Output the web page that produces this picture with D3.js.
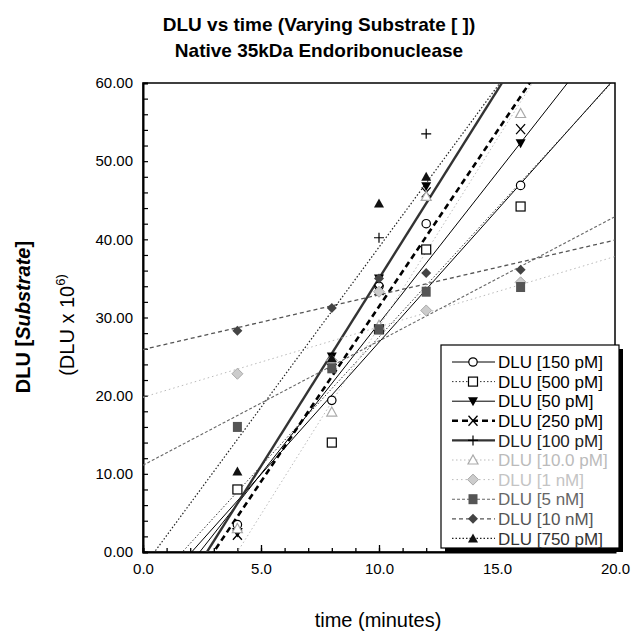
<!DOCTYPE html>
<html><head><meta charset="utf-8">
<script src="https://cdn.jsdelivr.net/npm/d3@7/dist/d3.min.js"></script>
<style>body{margin:0;background:#fff}svg{display:block}text{font-family:"Liberation Sans",Arial,sans-serif}</style>
</head><body><svg id="c" width="631" height="633"></svg>
<script>
// ---- data ----
const timeMin = [4, 8, 10, 12, 16];
const seriesNames = ["DLU [150 pM]","DLU [500 pM]","DLU [50 pM]","DLU [250 pM]","DLU [100 pM]","DLU [10.0 pM]","DLU [1 nM]","DLU [5 nM]","DLU [10 nM]","DLU [750 pM]"];
const dlu150pM = [3.5, 19.4, 34.0, 42.0, 46.9];
const dlu500pM = [8.0, 14.0, 28.5, 38.7, 44.2];
const dlu50pM  = [2.5, 25.0, 35.0, 46.8, 52.3];
const dlu250pM = [2.2, 24.0, 33.5, 46.0, 54.1];
const dlu100pM = [3.0, 24.0, 40.2, 53.5, null];
const dlu10pM  = [3.0, 17.9, 29.0, 45.5, 56.1];
const dlu1nM   = [22.8, 24.5, 33.3, 30.9, 34.5];
const dlu5nM   = [16.0, 23.5, 28.5, 33.3, 33.9];
const dlu10nM  = [28.3, 31.2, 35.0, 35.7, 36.1];
const dlu750pM = [10.3, 24.8, 44.6, 48.0, null];
// linear-fit lines: slope, intercept
const fitSlope     = [3.38, 3.3, 3.85, 4.48, 4.8, 4.8, 0.9, 1.59, 0.7, 4.1];
const fitIntercept = [-6.97, -5.5, -9.25, -13.4, -13.0, -19.2, 19.8, 11.1, 25.9, -2.0];
const xTicks = [0, 5, 10, 15, 20];
const yTicks = [0, 10, 20, 30, 40, 50, 60];

const values = [dlu150pM, dlu500pM, dlu50pM, dlu250pM, dlu100pM, dlu10pM, dlu1nM, dlu5nM, dlu10nM, dlu750pM];

// ---- styles ----
const styles = [
  {stroke:"#000", w:1, dash:null, text:"#000", marker:"circle"},
  {stroke:"#333", w:1, dash:"1.5,2", text:"#000", marker:"square"},
  {stroke:"#000", w:1, dash:null, text:"#000", marker:"tridown"},
  {stroke:"#000", w:2.6, dash:"6,4", text:"#000", marker:"x"},
  {stroke:"#333", w:2.4, dash:null, text:"#222", marker:"plus"},
  {stroke:"#bbb", w:1, dash:"1.5,2.5", text:"#bbb", marker:"triopen"},
  {stroke:"#bbb", w:1, dash:"1.5,3", text:"#c4c4c4", marker:"diamondlight"},
  {stroke:"#666", w:1.1, dash:"3,2", text:"#666", marker:"squarefill"},
  {stroke:"#555", w:1.3, dash:"4,3", text:"#555", marker:"diamond"},
  {stroke:"#222", w:1.2, dash:"1.5,2", text:"#333", marker:"triup"}
];

const svg = d3.select("#c");
const L = 143, R = 615, T = 83, B = 552;
const x = d3.scaleLinear().domain([0, 20]).range([L, R]);
const y = d3.scaleLinear().domain([0, 60]).range([B, T]);

svg.append("defs").append("clipPath").attr("id","clip")
  .append("rect").attr("x",L).attr("y",T).attr("width",R-L).attr("height",B-T);

// frame
svg.append("rect").attr("x",L).attr("y",T).attr("width",R-L).attr("height",B-T)
  .attr("fill","none").attr("stroke","#000").attr("stroke-width",1.5);

// axes with inward ticks
const xAxis = d3.axisBottom(x).tickValues(d3.range(0,21,1)).tickSize(-4).tickFormat("");
svg.append("g").attr("transform",`translate(0,${B})`).call(xAxis)
  .call(g=>{g.select(".domain").attr("stroke-width",2);g.selectAll("line").attr("stroke-width",1.3);});
svg.append("g").attr("transform",`translate(0,${B})`)
  .call(d3.axisBottom(x).tickValues(xTicks).tickSize(-7).tickFormat(d=>d3.format(".1f")(d)))
  .call(g=>{g.select(".domain").remove();g.selectAll("line").attr("stroke-width",1.3);
    g.selectAll("text").attr("font-size",15).attr("fill","#000").attr("y",11);});
const yAxis = d3.axisLeft(y).tickValues(d3.range(0,61,2)).tickSize(-5).tickFormat("");
svg.append("g").attr("transform",`translate(${L},0)`).call(yAxis)
  .call(g=>{g.select(".domain").attr("stroke-width",2);g.selectAll("line").attr("stroke-width",1.2);});
svg.append("g").attr("transform",`translate(${L},0)`)
  .call(d3.axisLeft(y).tickValues(yTicks).tickSize(0).tickPadding(10).tickFormat(d=>d3.format(".2f")(d)))
  .call(g=>{g.select(".domain").remove();
    g.selectAll("text").attr("font-size",15).attr("fill","#000");});

// fit lines
const lines = svg.append("g").attr("clip-path","url(#clip)");
values.forEach((v,i)=>{
  const s = styles[i];
  const p = [0,20].map(t=>[x(t), y(fitSlope[i]*t+fitIntercept[i])]);
  lines.append("path").attr("d", d3.line()(p))
    .attr("fill","none").attr("stroke",s.stroke).attr("stroke-width",s.w)
    .attr("stroke-dasharray",s.dash);
});

function marker(g, type, cx, cy){
  switch(type){
    case "circle": g.append("circle").attr("cx",cx).attr("cy",cy).attr("r",4.2).attr("fill","#fff").attr("stroke","#000").attr("stroke-width",1.2); break;
    case "square": g.append("rect").attr("x",cx-4.5).attr("y",cy-4.5).attr("width",9).attr("height",9).attr("fill","#fff").attr("stroke","#000").attr("stroke-width",1.2); break;
    case "tridown": g.append("path").attr("d",`M${cx-5},${cy-4}L${cx+5},${cy-4}L${cx},${cy+5}Z`).attr("fill","#000"); break;
    case "x": g.append("path").attr("d",`M${cx-4.5},${cy-5}L${cx+4.5},${cy+5}M${cx+4.5},${cy-5}L${cx-4.5},${cy+5}`).attr("stroke","#000").attr("stroke-width",1.3); break;
    case "plus": g.append("path").attr("d",`M${cx-5},${cy}L${cx+5},${cy}M${cx},${cy-5}L${cx},${cy+5}`).attr("stroke","#000").attr("stroke-width",1.2); break;
    case "triopen": g.append("path").attr("d",`M${cx-5},${cy+4}L${cx+5},${cy+4}L${cx},${cy-5}Z`).attr("fill","#fff").attr("stroke","#aaa").attr("stroke-width",1.2); break;
    case "diamondlight": g.append("path").attr("d",`M${cx},${cy-5.5}L${cx+5.5},${cy}L${cx},${cy+5.5}L${cx-5.5},${cy}Z`).attr("fill","#ccc").attr("stroke","#aaa").attr("stroke-width",1); break;
    case "squarefill": g.append("rect").attr("x",cx-4.5).attr("y",cy-5).attr("width",9).attr("height",10).attr("fill","#555"); break;
    case "diamond": g.append("path").attr("d",`M${cx},${cy-5}L${cx+5},${cy}L${cx},${cy+5}L${cx-5},${cy}Z`).attr("fill","#444"); break;
    case "triup": g.append("path").attr("d",`M${cx-5},${cy+4}L${cx+5},${cy+4}L${cx},${cy-5}Z`).attr("fill","#111"); break;
  }
}

// points
const pts = svg.append("g");
values.forEach((v,i)=>{
  v.forEach((val,j)=>{ if(val!==null) marker(pts, styles[i].marker, x(timeMin[j]), y(val)); });
});

// legend
const lg = svg.append("g");
const lx = 441, ly = 345, lw = 178, lh = 203;
lg.append("rect").attr("x",lx+4).attr("y",ly+4).attr("width",lw).attr("height",lh).attr("fill","#000");
lg.append("rect").attr("x",lx).attr("y",ly).attr("width",lw).attr("height",lh).attr("fill","#fff").attr("stroke","#000").attr("stroke-width",1.2);
seriesNames.forEach((n,i)=>{
  const s = styles[i];
  const ry = 362 + i*19.6;
  lg.append("line").attr("x1",452).attr("x2",495).attr("y1",ry).attr("y2",ry)
    .attr("stroke",s.stroke).attr("stroke-width",s.w).attr("stroke-dasharray",s.dash);
  marker(lg, s.marker, 473, ry);
  lg.append("text").attr("x",498).attr("y",ry).attr("dy","0.36em").attr("font-size",17)
    .attr("fill",s.text).text(n);
});

// titles
svg.append("text").attr("x",319).attr("y",31).attr("text-anchor","middle").attr("font-size",19).attr("font-weight","bold").text("DLU vs time (Varying Substrate [ ])");
svg.append("text").attr("x",319).attr("y",57).attr("text-anchor","middle").attr("font-size",19).attr("font-weight","bold").text("Native 35kDa Endoribonuclease");
const yt = svg.append("text").attr("transform","translate(30,317) rotate(-90)").attr("text-anchor","middle").attr("font-size",20).attr("font-weight","bold");
yt.append("tspan").text("DLU [");
yt.append("tspan").attr("font-style","italic").text("Substrate");
yt.append("tspan").text("]");
const yt2 = svg.append("text").attr("transform","translate(74,325) rotate(-90)").attr("text-anchor","middle").attr("font-size",20);
yt2.append("tspan").text("(DLU x 10");
yt2.append("tspan").attr("font-size",13).attr("dy",-9).text("6)");
svg.append("text").attr("x",378).attr("y",627).attr("text-anchor","middle").attr("font-size",20).text("time (minutes)");
</script></body></html>
